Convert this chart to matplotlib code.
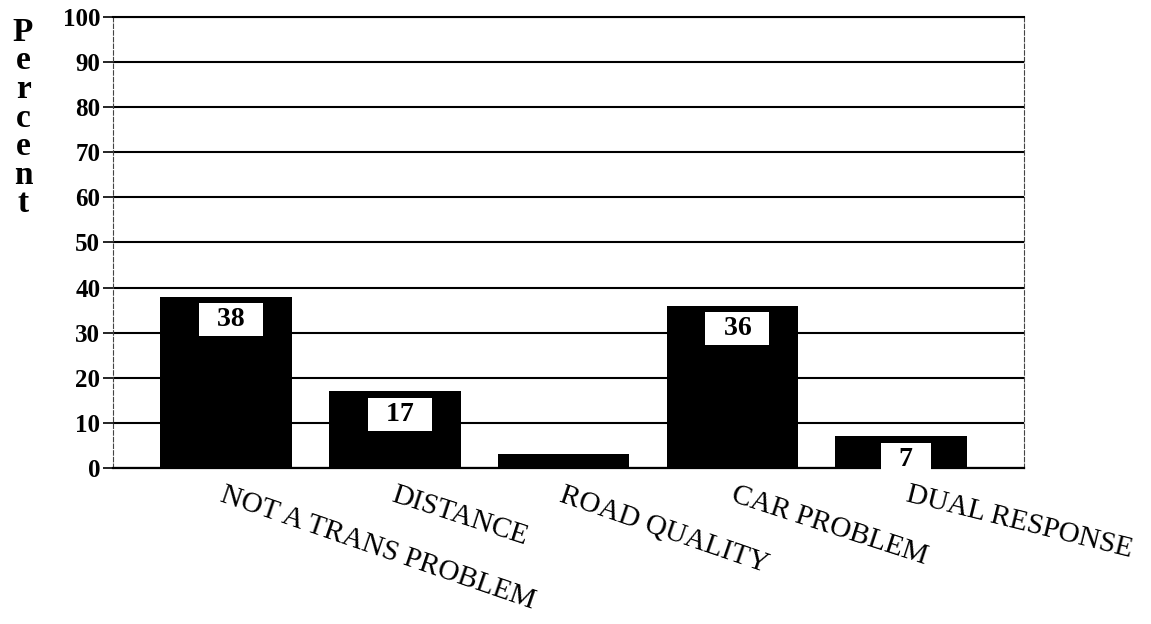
import numpy as np
import matplotlib.pyplot as plt

categorias = ['NOT A TRANS PROBLEM', 'DISTANCE', 'ROAD QUALITY', 'CAR PROBLEM', 'DUAL RESPONSE']
percentuais = [38, 17, 3, 36, 7]
rotulos = ['38', '17', '', '36', '7']
marcas_y = list(range(0, 101, 10))

# estilo dos rotulos do eixo x (angulo e deslocamento em pontos)
angulos = [-19, -18, -19, -18, -14]
desloc_x = [0, 1, 1, 3, 6]

plt.rcParams['font.family'] = ['Liberation Serif', 'DejaVu Serif']

fig = plt.figure(figsize=(11.51, 6.24), dpi=100)
ax = fig.add_axes([0.098, 0.25, 0.792, 0.723])

x = np.arange(len(categorias))
ax.set_axisbelow(True)
ax.yaxis.grid(True, color='black', lw=1.5)
ax.bar(x, percentuais, width=0.78, color='black')

for i, (v, r) in enumerate(zip(percentuais, rotulos)):
    if r:
        ax.text(i + 0.03, v - 2.3, '  ' + r + '  ', ha='center', va='top',
                fontsize=20, fontweight='bold', color='black',
                bbox=dict(boxstyle='square,pad=0.15', fc='white', ec='none'))

ax.set_xlim(-0.67, 4.73)
ax.set_ylim(0, 100)
ax.set_yticks(marcas_y)
ax.set_yticklabels([str(t) for t in marcas_y], fontsize=18, fontweight='bold')
ax.tick_params(axis='y', length=7, width=1.2, pad=2)
ax.set_xticks([])

for lado in ['left', 'right']:
    ax.spines[lado].set_linestyle((0, (4, 2)))
    ax.spines[lado].set_linewidth(0.8)
    ax.spines[lado].set_color('#444444')
ax.spines['top'].set_linewidth(1.5)
ax.spines['bottom'].set_linewidth(1.6)

for i, (nome, ang, dx) in enumerate(zip(categorias, angulos, desloc_x)):
    ax.annotate(nome, xy=(i, 0), xycoords=('data', 'axes fraction'),
                xytext=(dx, -10), textcoords='offset points',
                ha='left', va='top', rotation=ang, rotation_mode='anchor',
                fontsize=21)

fig.text(0.02, 0.973, 'P\ne\nr\nc\ne\nn\nt', ha='center', va='top',
         fontsize=24, fontweight='bold', linespacing=0.9)

plt.savefig('out.png', dpi=100)
